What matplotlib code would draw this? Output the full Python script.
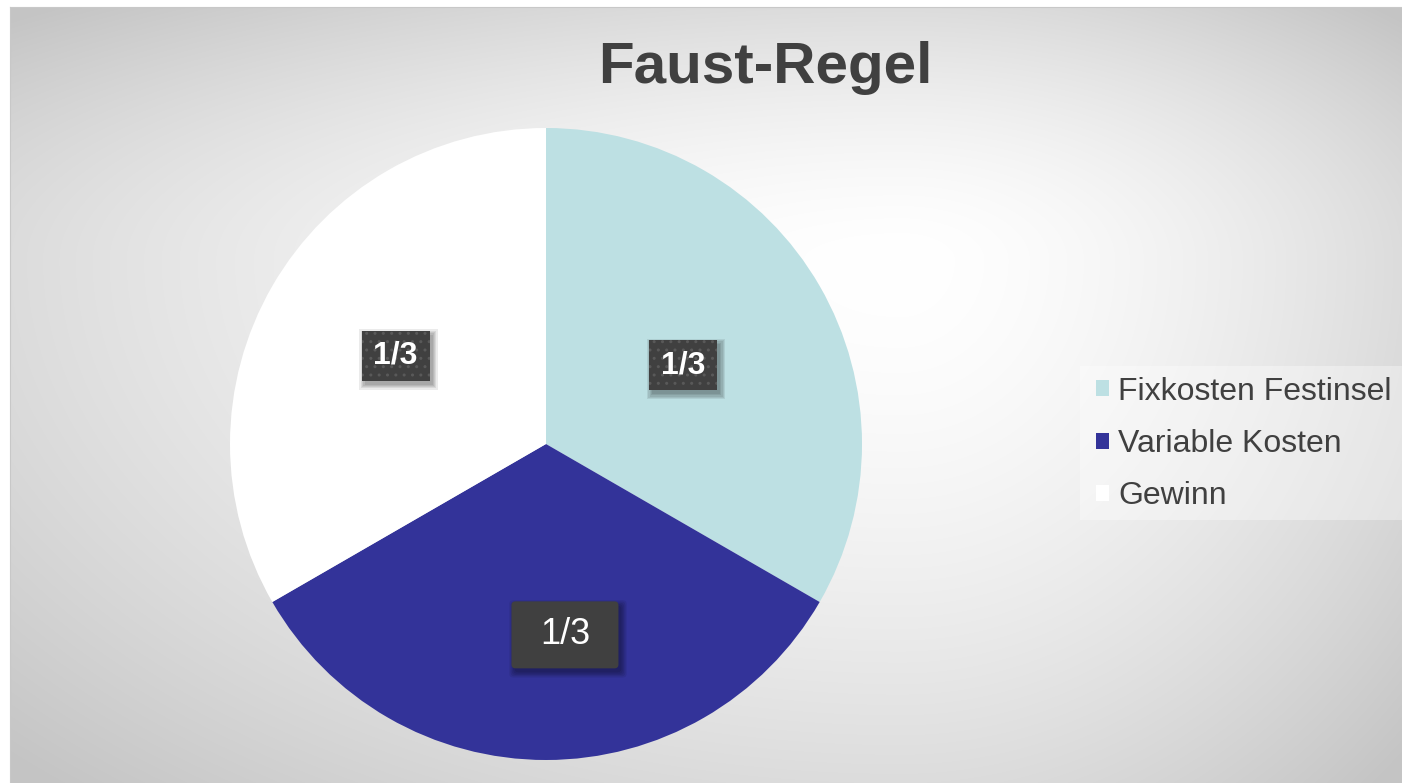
import numpy as np
import matplotlib.pyplot as plt
from matplotlib.patches import Rectangle, FancyBboxPatch
from matplotlib.transforms import ScaledTranslation
from fractions import Fraction

plt.rcParams['font.family'] = ['Liberation Sans', 'DejaVu Sans']

title = 'Faust-Regel'
categories = ['Fixkosten Festinsel', 'Variable Kosten', 'Gewinn']
shares = [Fraction(1, 3), Fraction(1, 3), Fraction(1, 3)]
colors = ['#bde0e3', '#333399', '#ffffff']
bold_label = [True, False, True]

W, H = 1402, 783
fig = plt.figure(figsize=(W / 100, H / 100), dpi=100)
fig.patch.set_facecolor('white')

# chart area: off-centre radial gradient, each side scaled to its own extent
bg = fig.add_axes([10 / W, 0, (W - 10) / W, (H - 7) / H])
yy, xx = np.mgrid[7:H, 10:W].astype(float)
gx, gy = 900.0, 260.0
dx = np.where(xx < gx, (gx - xx) / (gx - 10), (xx - gx) / (W - gx))
dy = np.where(yy < gy, (gy - yy) / (gy - 7), (yy - gy) / (H - gy))
t = np.clip(np.hypot(dx, dy) / 1.38, 0, 1)
v = 1 - 0.23 * t ** 1.6
bg.imshow(np.dstack([v, v, v]), aspect='auto', extent=[0, 1, 0, 1], interpolation='bilinear')
bg.set_xlim(0, 1)
bg.set_ylim(0, 1)
bg.set_xticks([])
bg.set_yticks([])
for s in bg.spines.values():
    s.set_visible(False)
for side in ('top', 'left'):
    bg.spines[side].set_visible(True)
    bg.spines[side].set_color('#c8c8c8')

fig.text(765 / W, 1 - 83 / H, title, ha='center', va='baseline', fontsize=42,
         fontweight='bold', color='#404040')

# pie
cx, cy, r = 546, 444, 316
ax = fig.add_axes([(cx - r) / W, (H - cy - r) / H, 2 * r / W, 2 * r / H])
wedges, texts = ax.pie([float(s) for s in shares], colors=colors, startangle=90,
                       counterclock=False, radius=1,
                       labels=[f'{s.numerator}/{s.denominator}' for s in shares],
                       labeldistance=0.55,
                       wedgeprops=dict(linewidth=0))
ax.set_xlim(-1, 1)
ax.set_ylim(-1, 1)
ax.axis('off')

# hand-placed data labels
texts[0].set_position((0.434, 0.25))
texts[1].set_position((0.06, -0.604))
texts[2].set_position((-0.476, 0.28))


def label_box(x, y, w, h, style, hatch=None):
    tr = fig.dpi_scale_trans + ScaledTranslation(x, y, ax.transData)
    # soft drop shadow
    for i in range(5):
        g = i * 1.3
        sh = FancyBboxPatch(((-w / 2 + 3 - g) / 100, (-h / 2 - 4 - g) / 100),
                            (w + 2 * g) / 100, (h + 2 * g) / 100, boxstyle=style,
                            transform=tr, fc='black', ec='none', alpha=0.08, zorder=4)
        ax.add_patch(sh)
    box = FancyBboxPatch((-w / 2 / 100, -h / 2 / 100), w / 100, h / 100, boxstyle=style,
                         transform=tr, fc='#404040', ec='#595959' if hatch else 'none',
                         lw=0, hatch=hatch, zorder=5)
    ax.add_patch(box)


for tx, b in zip(texts, bold_label):
    x, y = tx.get_position()
    tx.set_ha('center')
    tx.set_va('center')
    tx.set_color('white')
    tx.set_zorder(6)
    if b:
        tx.set_fontsize(23)
        tx.set_fontweight('bold')
        label_box(x, y, 68, 50, 'square,pad=0', hatch='..')
    else:
        tx.set_fontsize(26)
        label_box(x, y, 107, 67, 'round,pad=0,rounding_size=0.04')

# legend
fig.patches.append(Rectangle((1080 / W, 1 - 520 / H), (W - 1080) / W, 154 / H,
                             transform=fig.transFigure, fc='white', alpha=0.35,
                             ec='none', zorder=1))
leg = fig.legend(wedges, categories, loc='center left',
                 bbox_to_anchor=(1096 / W, 1 - 444 / H), frameon=False,
                 fontsize=23, handlelength=0.4, handleheight=0.4,
                 handletextpad=0.3, labelspacing=0.70, borderaxespad=0, borderpad=0)
for txt in leg.get_texts():
    txt.set_color('#404040')

fig.savefig('out.png', dpi=100)
